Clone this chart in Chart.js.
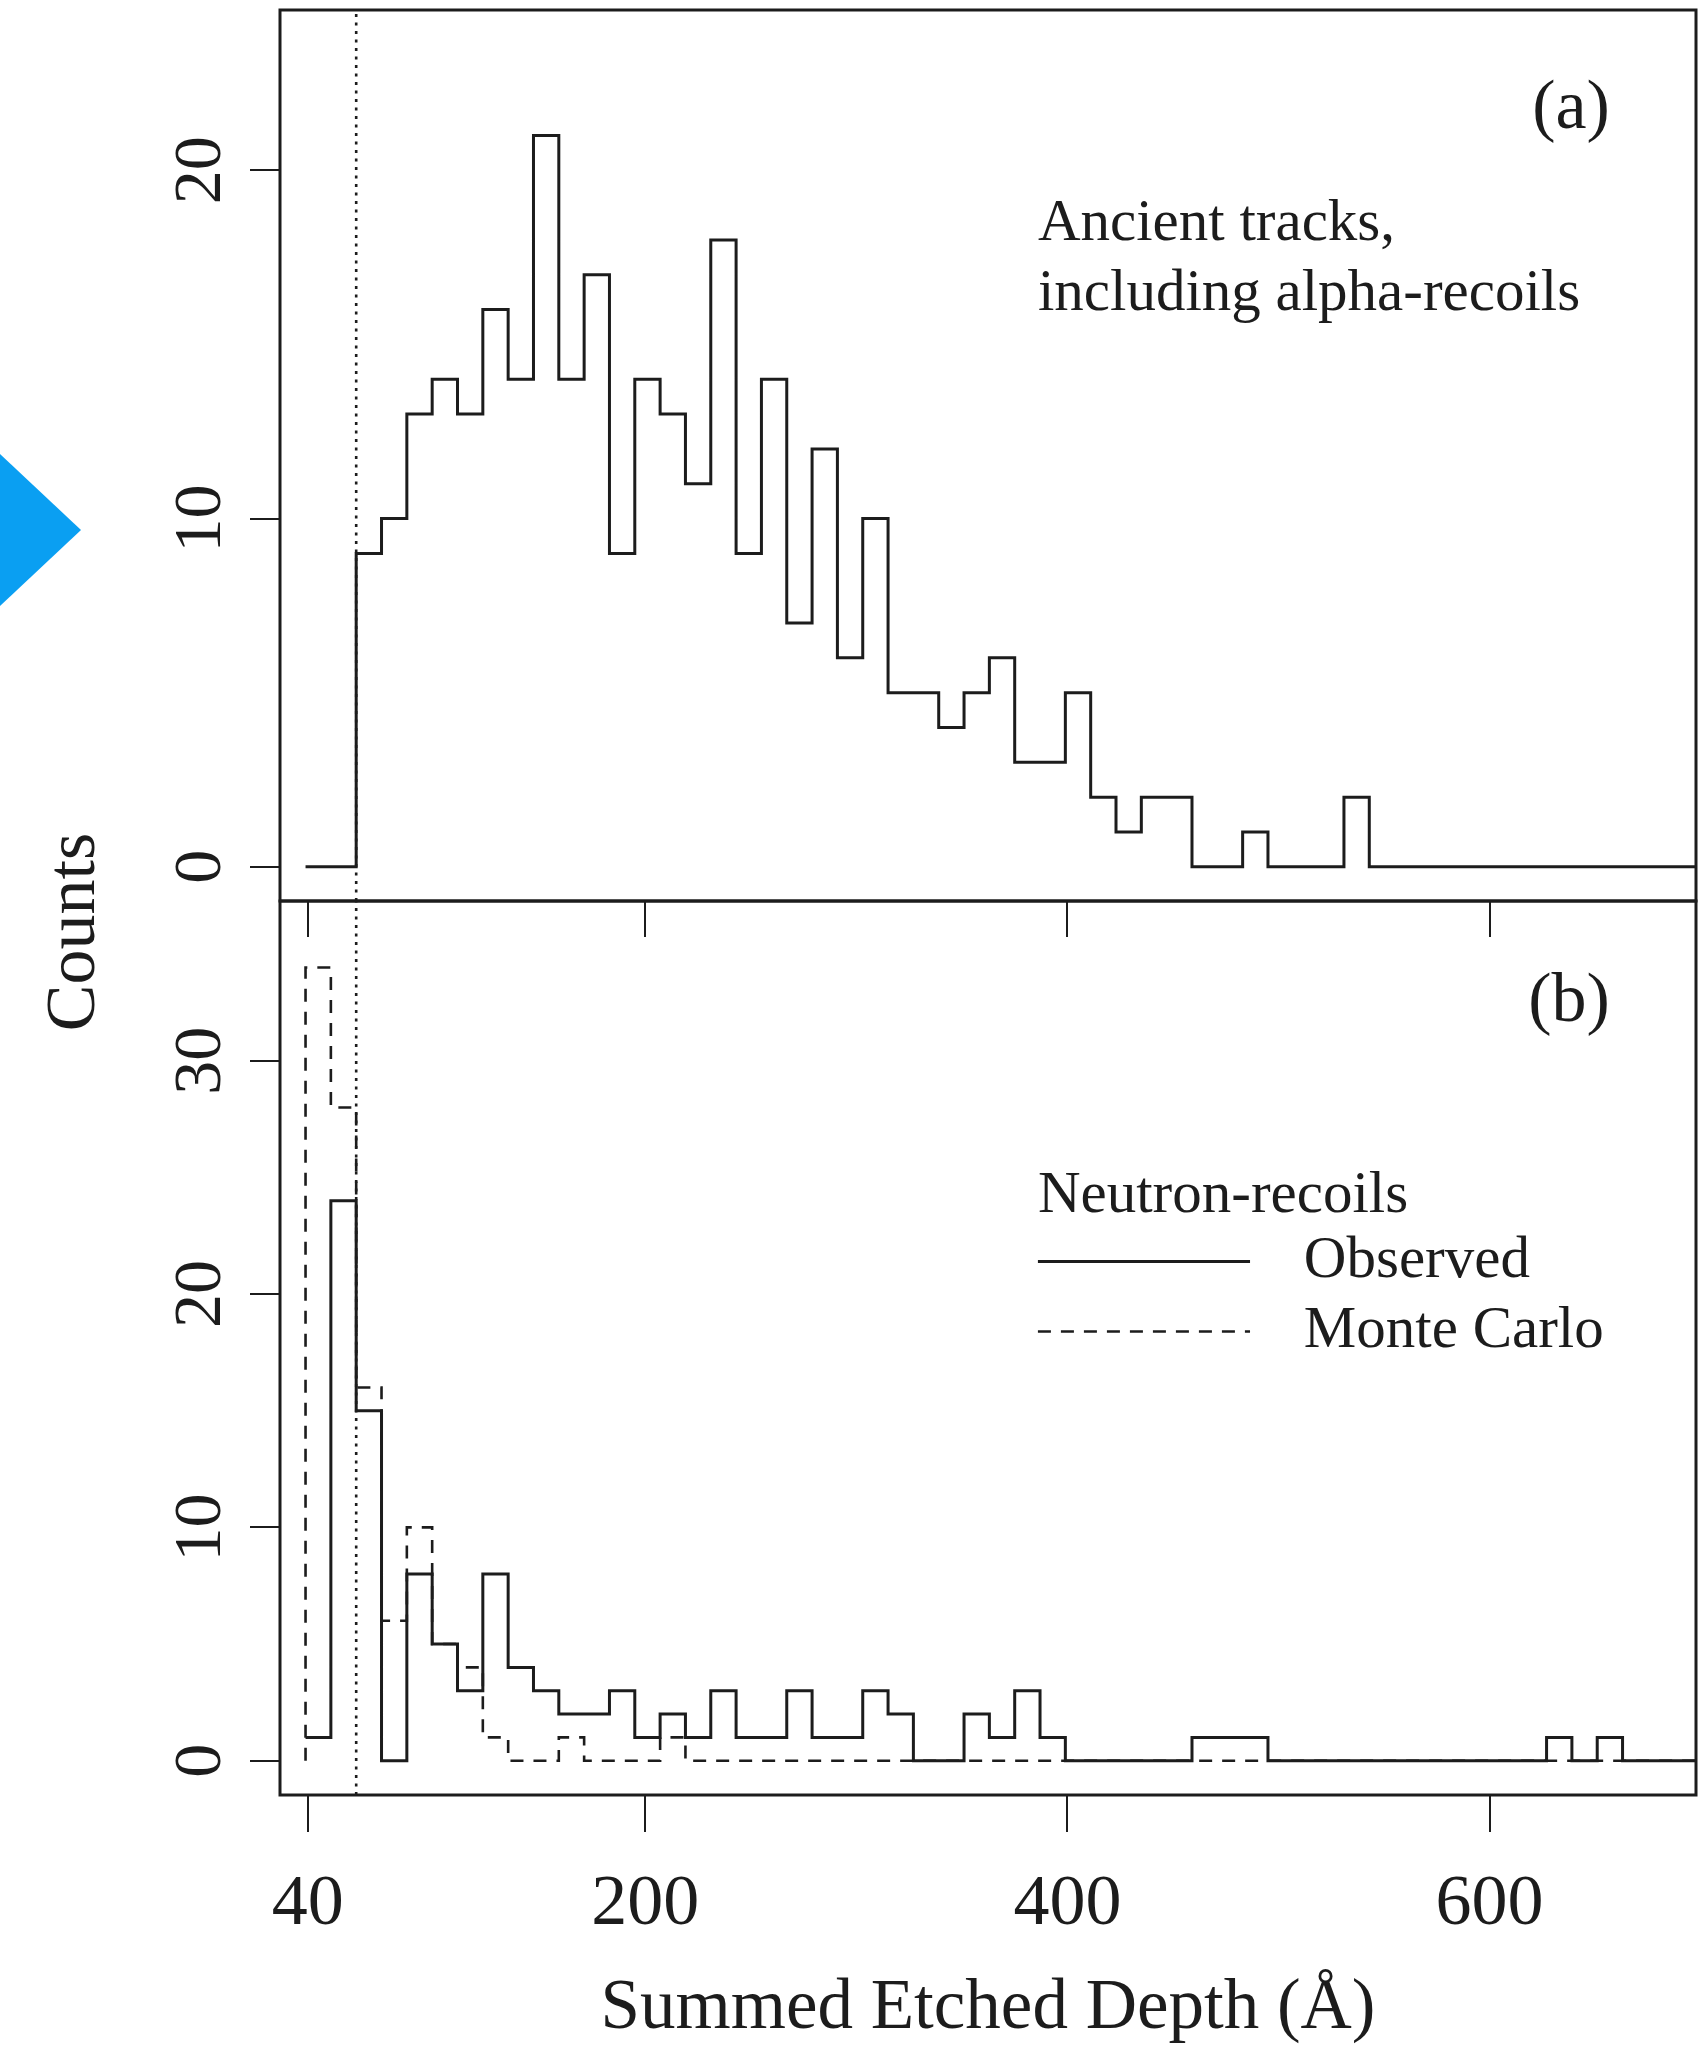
<!DOCTYPE html>
<html>
<head>
<meta charset="utf-8">
<title>Summed etched depth</title>
<script src="https://cdn.jsdelivr.net/npm/chart.js@4.4.1/dist/chart.umd.min.js"></script>
<style>
  html, body { margin: 0; padding: 0; background: #fff; }
  #figure { position: relative; width: 1703px; height: 2052px; overflow: hidden; }
  #figure canvas { position: absolute; left: 0; top: 0; }
  .marker {
    position: absolute; left: 0; top: 454px; width: 0; height: 0;
    border-top: 76px solid transparent;
    border-bottom: 76px solid transparent;
    border-left: 81px solid #0a9ff2;
  }
</style>
</head>
<body>
<div id="figure">
  <div class="marker"></div>
  <canvas id="chart_a" width="1703" height="2052"></canvas>
  <canvas id="chart_b" width="1703" height="2052"></canvas>
</div>
<script>
// bins are 12 A wide, first edge at 39 A
const binStart = 39;
const binWidth = 12;
const depthCut = 63;

// (a) ancient tracks, including alpha-recoils
const ancientCounts = [
  0, 0, 9, 10, 13, 14, 13, 16, 14, 21, 14, 17, 9, 14, 13, 11, 18, 9, 14, 7,
  12, 6, 10, 5, 5, 4, 5, 6, 3, 3, 5, 2, 1, 2, 2, 0, 0, 1, 0, 0,
  0, 2, 0, 0, 0, 0, 0, 0, 0, 0, 0, 0, 0, 0, 0
];
// (b) neutron-recoils
const observedCounts = [
  1, 24, 15, 0, 8, 5, 3, 8, 4, 3, 2, 2, 3, 1, 2, 1, 3, 1, 1, 3,
  1, 1, 3, 2, 0, 0, 2, 1, 3, 1, 0, 0, 0, 0, 0, 1, 1, 1, 0, 0,
  0, 0, 0, 0, 0, 0, 0, 0, 0, 1, 0, 1, 0, 0, 0
];
const monteCarloCounts = [
  34, 28, 16, 6, 10, 5, 4, 1, 0, 0, 1, 0, 0, 0, 1, 0, 0, 0, 0, 0,
  0, 0, 0, 0, 0, 0, 0, 0, 0, 0, 0, 0, 0, 0, 0, 0, 0, 0, 0, 0,
  0, 0, 0, 0, 0, 0, 0, 0, 0, 0, 0, 0, 0, 0, 0
];

const depthTicks = [40, 200, 400, 600];
const countTicksA = [0, 10, 20];
const countTicksB = [0, 10, 20, 30];
const depthRange = [26.9, 697.8];
const countRangeA = [-0.98, 24.6];
const countRangeB = [-1.47, 36.85];

const ink = '#1c1c1c';
const serif = "'Liberation Serif', 'DejaVu Serif', serif";

// outline points of a histogram, one per left bin edge plus the closing edge
function stepPoints(counts, fromBase) {
  const pts = counts.map((c, i) => ({x: binStart + i * binWidth, y: c}));
  pts.push({x: binStart + counts.length * binWidth, y: counts[counts.length - 1]});
  if (fromBase) pts.unshift({x: binStart, y: 0});
  return pts;
}

function cutLine(range) {
  return {
    label: '',
    data: [{x: depthCut, y: range[0]}, {x: depthCut, y: range[1]}],
    borderColor: ink,
    borderWidth: 2.6,
    borderDash: [3, 5.5],
    stepped: false
  };
}

// box round the plotting region
const frame = {
  id: 'frame',
  afterDatasetsDraw(chart) {
    const {ctx, chartArea: a} = chart;
    ctx.save();
    ctx.strokeStyle = ink;
    ctx.lineWidth = 3;
    ctx.strokeRect(a.left, a.top, a.right - a.left, a.bottom - a.top);
    ctx.restore();
  }
};

// panel letters, captions and the line key, placed in data units
const panelNotes = {
  id: 'panelNotes',
  afterDraw(chart, args, opts) {
    const {ctx, scales: {x, y}} = chart;
    ctx.save();
    ctx.fillStyle = ink;
    ctx.textBaseline = 'alphabetic';
    (opts.labels || []).forEach(n => {
      ctx.font = n.size + 'px ' + serif;
      ctx.textAlign = n.align;
      ctx.fillText(n.text, x.getPixelForValue(n.x), y.getPixelForValue(n.y));
    });
    const key = opts.key;
    if (key) {
      ctx.font = key.size + 'px ' + serif;
      ctx.textAlign = 'left';
      ctx.textBaseline = 'middle';
      key.rows.forEach(r => {
        const ds = chart.data.datasets[r.dataset];
        const py = y.getPixelForValue(r.y);
        ctx.save();
        ctx.strokeStyle = ds.borderColor;
        ctx.lineWidth = ds.borderWidth;
        ctx.setLineDash(ds.borderDash || []);
        ctx.beginPath();
        ctx.moveTo(x.getPixelForValue(key.x0), py);
        ctx.lineTo(x.getPixelForValue(key.x1), py);
        ctx.stroke();
        ctx.restore();
        ctx.fillText(ds.label, x.getPixelForValue(key.textX), py);
      });
    }
    ctx.restore();
  }
};

function makePanel(canvasId, cfg) {
  const ctx = document.getElementById(canvasId).getContext('2d');
  return new Chart(ctx, {
    type: 'line',
    data: {datasets: cfg.datasets},
    plugins: [frame, panelNotes],
    options: {
      responsive: false,
      animation: false,
      devicePixelRatio: 1,
      layout: {padding: cfg.padding, autoPadding: false},
      elements: {point: {radius: 0, hoverRadius: 0}, line: {fill: false, tension: 0}},
      scales: {
        x: {
          type: 'linear',
          bounds: 'data',
          min: depthRange[0],
          max: depthRange[1],
          afterBuildTicks: s => { s.ticks = depthTicks.map(v => ({value: v})); },
          afterFit: s => {
            s.height = cfg.xHeight;
            s.paddingLeft = 0;
            s.paddingRight = 0;
          },
          grid: {drawOnChartArea: false, drawTicks: true, tickLength: cfg.xTickLength, color: ink, lineWidth: 2},
          border: {display: false},
          ticks: {
            display: cfg.xLabels, autoSkip: false, maxRotation: 0, padding: 30,
            color: ink, font: {family: serif, size: 72}
          },
          title: cfg.xTitle || {display: false}
        },
        y: {
          type: 'linear',
          bounds: 'data',
          min: cfg.yRange[0],
          max: cfg.yRange[1],
          afterBuildTicks: s => { s.ticks = cfg.yTicks.map(v => ({value: v})); },
          afterFit: s => {
            s.width = cfg.yWidth;
            s.paddingTop = 0;
            s.paddingBottom = 0;
          },
          grid: {drawOnChartArea: false, drawTicks: true, tickLength: 30, color: ink, lineWidth: 2},
          border: {display: false},
          ticks: {
            minRotation: 90, maxRotation: 90, crossAlign: 'center', padding: 14,
            color: ink, font: {family: serif, size: 68}
          }
        }
      },
      plugins: {
        legend: {display: false},
        tooltip: {enabled: false},
        title: cfg.title || {display: false},
        panelNotes: cfg.notes
      }
    }
  });
}

// (a) ancient tracks
makePanel('chart_a', {
  padding: {top: 10, right: 7, left: 0, bottom: 198},
  xHeight: 953,
  xTickLength: 36,
  xLabels: false,
  yWidth: 162,
  yRange: countRangeA,
  yTicks: countTicksA,
  title: {
    display: true, position: 'left', text: 'Counts', color: ink,
    font: {family: serif, size: 70, weight: 'normal'},
    padding: {top: 34, bottom: 0}
  },
  datasets: [
    {
      label: 'Ancient tracks',
      data: stepPoints(ancientCounts, false),
      borderColor: ink, borderWidth: 3, stepped: 'before'
    },
    cutLine(countRangeA)
  ],
  notes: {
    labels: [
      {text: '(a)', x: 657, y: 21.2, align: 'right', size: 70},
      {text: 'Ancient tracks,', x: 386, y: 18.0, align: 'left', size: 59},
      {text: 'including alpha-recoils', x: 386, y: 16.0, align: 'left', size: 59}
    ]
  }
});

// (b) neutron-recoils, observed against Monte Carlo
makePanel('chart_b', {
  padding: {top: 901, right: 7, left: 0, bottom: 0},
  xHeight: 257,
  xTickLength: 37,
  xLabels: true,
  xTitle: {
    display: true, text: 'Summed Etched Depth (\u00c5)', color: ink,
    font: {family: serif, size: 71, weight: 'normal'},
    padding: {top: 0, bottom: 0}
  },
  yWidth: 280,
  yRange: countRangeB,
  yTicks: countTicksB,
  datasets: [
    {
      label: 'Observed',
      data: stepPoints(observedCounts, false),
      borderColor: ink, borderWidth: 3, stepped: 'before'
    },
    {
      label: 'Monte Carlo',
      data: stepPoints(monteCarloCounts, true),
      borderColor: ink, borderWidth: 2.6, borderDash: [13, 10], stepped: 'before'
    },
    cutLine(countRangeB)
  ],
  notes: {
    labels: [
      {text: '(b)', x: 657, y: 31.7, align: 'right', size: 70},
      {text: 'Neutron-recoils', x: 386, y: 23.5, align: 'left', size: 59}
    ],
    key: {
      size: 59, x0: 386, x1: 486.5, textX: 512,
      rows: [{dataset: 0, y: 21.4}, {dataset: 1, y: 18.4}]
    }
  }
});
</script>
</body>
</html>
